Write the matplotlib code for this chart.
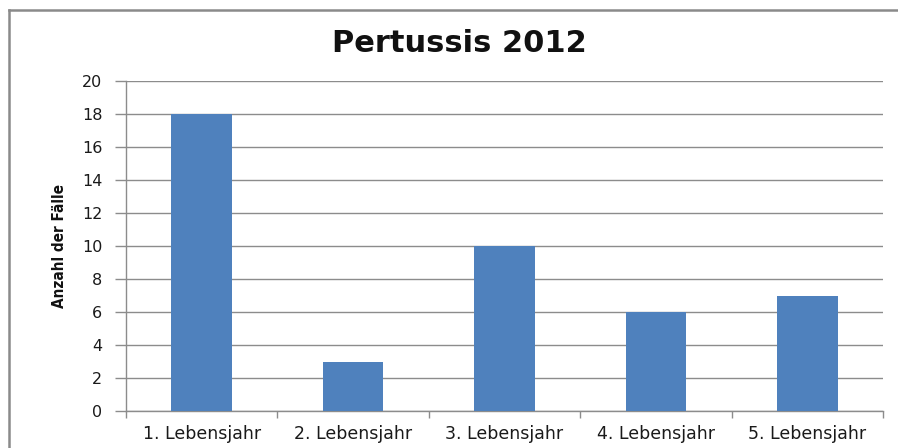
import matplotlib
matplotlib.use("Agg")
import matplotlib.pyplot as plt
from matplotlib.lines import Line2D

plt.rcParams["font.family"] = ["DejaVu Sans"]

categories = ["1. Lebensjahr", "2. Lebensjahr", "3. Lebensjahr", "4. Lebensjahr", "5. Lebensjahr"]
values = [18, 3, 10, 6, 7]
yticks = [0, 2, 4, 6, 8, 10, 12, 14, 16, 18, 20]

W, H = 898, 448
fig = plt.figure(figsize=(W / 100, H / 100), dpi=100)
fig.patch.set_facecolor("white")

# outer chart border (left and top visible)
fig.add_artist(Line2D([9 / W, 9 / W], [0, 1 - 10 / H], color="#8a8a8a", lw=1.8))
fig.add_artist(Line2D([9 / W, 1], [1 - 10 / H, 1 - 10 / H], color="#8a8a8a", lw=1.8))

ax = fig.add_axes([126 / W, 1 - 411 / H, (883 - 126) / W, (411 - 81) / H])
x = list(range(len(categories)))
ax.bar(x, values, width=0.4, color="#4F81BD", zorder=3)
ax.set_xlim(-0.5, len(categories) - 0.5)
ax.set_ylim(0, 20)
ax.set_yticks(yticks)
ax.set_yticklabels([str(v) for v in yticks], fontsize=11.5, color="#1a1a1a")
ax.yaxis.grid(True, color="#8c8c8c", lw=1.0, zorder=0)
ax.set_xticks(x)
ax.set_xticklabels(categories, fontsize=12.5, color="#1a1a1a")
ax.tick_params(axis="x", length=0, pad=10)
ax.set_xticks([i - 0.5 for i in range(len(categories) + 1)], minor=True)
ax.tick_params(axis="x", which="minor", length=5, color="#8c8c8c", width=1)
ax.tick_params(axis="y", length=8, color="#8c8c8c", width=1, pad=9)
for s in ["top", "right"]:
    ax.spines[s].set_visible(False)
for s in ["left", "bottom"]:
    ax.spines[s].set_color("#8c8c8c")
    ax.spines[s].set_linewidth(1.0)

ax.set_ylabel("Anzahl der Fälle", fontsize=11, fontweight="bold", fontstretch="condensed",
              family=["Liberation Sans Narrow", "DejaVu Sans"], color="#111111", labelpad=11)

fig.text(459 / W, 1 - 44 / H, "Pertussis 2012", ha="center", va="center",
         fontsize=22, fontweight="bold", color="#111111")

fig.savefig("out.png", dpi=100, facecolor="white")
